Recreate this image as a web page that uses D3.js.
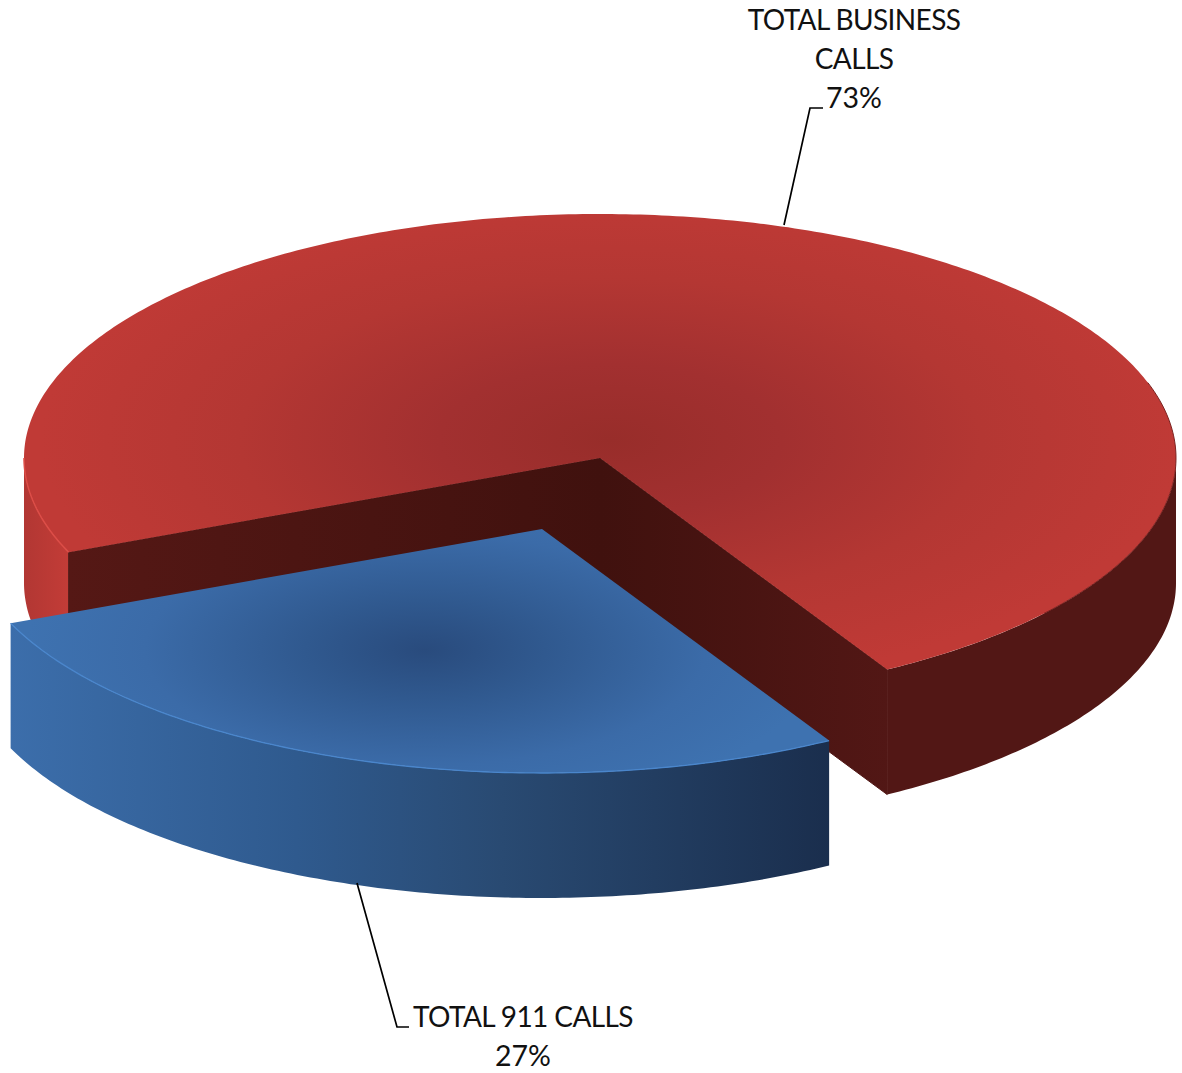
<!DOCTYPE html>
<html>
<head>
<meta charset="utf-8">
<script src="https://d3js.org/d3.v7.min.js" type="text/javascript"></script>
<style>
  html, body { margin: 0; padding: 0; background: #fff; }
  svg { display: block; }
  text { font-family: Lato, sans-serif; font-size: 28px; fill: #111; text-anchor: middle; }
  .name { letter-spacing: -0.6px; }
  .pct { font-size: 28.5px; }
</style>
</head>
<body>
<svg id="chart" width="1182" height="1073"></svg>
<script type="text/javascript">
const categories = ["TOTAL BUSINESS CALLS", "TOTAL 911 CALLS"];
const values = [73, 27];
const labelLines = [["TOTAL BUSINESS", "CALLS"], ["TOTAL 911 CALLS"]];

const width = 1182, height = 1073;
const cx = 600, cy = 458, rx = 576, ry = 244, depth = 125;
const explode = { x: -58, y: 71 }; // blue slice is pulled out
const firstAngle = 247.3 * Math.PI / 180;

const svg = d3.select("#chart");
const defs = svg.append("defs");

// unit circle -> squashed ellipse on the page
const xScale = d3.scaleLinear().domain([-1, 1]).range([cx - rx, cx + rx]);
const yScale = d3.scaleLinear().domain([-1, 1]).range([cy - ry, cy + ry]);

const pie = d3.pie().sort(null).startAngle(firstAngle).endAngle(firstAngle + 2 * Math.PI);
const slices = pie(values);
const red = slices[0], blue = slices[1];

const line = d3.line();

function rimPoint(a, dx, dy) {
  return [xScale(Math.sin(a)) + dx, yScale(-Math.cos(a)) + dy];
}
function rim(a0, a1, dx, dy) {
  const n = Math.ceil(Math.abs(a1 - a0) * 80);
  return d3.range(n + 1).map(i => rimPoint(a0 + (a1 - a0) * i / n, dx, dy));
}
function topPath(s, dx, dy) {
  return line([[cx + dx, cy + dy]].concat(rim(s.startAngle, s.endAngle, dx, dy))) + "Z";
}
function wallPath(a0, a1, dx, dy) {
  return line(rim(a0, a1, dx, dy).concat(rim(a1, a0, dx, dy + depth))) + "Z";
}
function cutPath(a, dx, dy) {
  const p = rimPoint(a, dx, dy);
  return line([[cx + dx, cy + dy], p, [p[0], p[1] + depth], [cx + dx, cy + dy + depth]]) + "Z";
}

function linearGradient(id, x1, x2, stops) {
  const g = defs.append("linearGradient").attr("id", id)
    .attr("gradientUnits", "userSpaceOnUse")
    .attr("x1", x1).attr("x2", x2).attr("y1", 0).attr("y2", 0);
  stops.forEach(s => g.append("stop").attr("offset", s[0]).attr("stop-color", s[1]));
}
function radialGradient(id, x, y, gx, gy, stops) {
  const g = defs.append("radialGradient").attr("id", id)
    .attr("gradientUnits", "userSpaceOnUse")
    .attr("cx", 0).attr("cy", 0).attr("r", 1)
    .attr("gradientTransform", `translate(${x},${y}) scale(${gx},${gy})`);
  stops.forEach(s => g.append("stop").attr("offset", s[0]).attr("stop-color", s[1]));
}

radialGradient("redTop", 610, 440, 570, 250, [[0, "#982d2a"], [0.3, "#a23030"], [0.65, "#b43733"], [1, "#c03a36"]]);
radialGradient("blueTop", 425, 650, 400, 165, [[0, "#294b7d"], [0.3, "#30598f"], [0.7, "#3b6ba8"], [1, "#3e72b0"]]);
linearGradient("redLeft", 24, 67, [[0, "#b23733"], [1, "#c23c37"]]);
linearGradient("redCut", 67, 889, [[0, "#551815"], [0.65, "#40110e"], [1, "#521715"]]);
linearGradient("blueWall", 9, 831, [[0, "#3c6eab"], [0.35, "#2f5a8e"], [0.6, "#294a72"], [1, "#1a2e4d"]]);

// red slice: outer wall, the two cut faces, then the top
svg.append("path").attr("d", wallPath(red.startAngle, 1.5 * Math.PI, 0, 0)).attr("fill", "url(#redLeft)");
svg.append("path").attr("d", wallPath(2.5 * Math.PI, red.endAngle, 0, 0)).attr("fill", "#521715");
svg.append("path").attr("d", cutPath(red.startAngle, 0, 0)).attr("fill", "url(#redCut)")
  .attr("stroke", "url(#redCut)").attr("stroke-width", 1);
svg.append("path").attr("d", cutPath(red.endAngle, 0, 0)).attr("fill", "url(#redCut)")
  .attr("stroke", "url(#redCut)").attr("stroke-width", 1);
svg.append("path").attr("d", topPath(red, 0, 0)).attr("fill", "url(#redTop)");
svg.append("path").attr("d", line(rim(red.startAngle, 1.5 * Math.PI, 0, 0)))
  .attr("fill", "none").attr("stroke", "#dc4d47").attr("stroke-width", 1.5);
svg.append("path").attr("d", line(rim(2.4 * Math.PI, 2.72 * Math.PI, 0, 0)))
  .attr("fill", "none").attr("stroke", "#7c2321").attr("stroke-width", 1);

// blue slice
svg.append("path").attr("d", wallPath(blue.startAngle, blue.endAngle, explode.x, explode.y)).attr("fill", "url(#blueWall)");
svg.append("path").attr("d", topPath(blue, explode.x, explode.y)).attr("fill", "url(#blueTop)");
svg.append("path").attr("d", line(rim(blue.startAngle, blue.endAngle, explode.x, explode.y)))
  .attr("fill", "none").attr("stroke", "#4a86cc").attr("stroke-width", 1.3);

// leader lines
const leaderTop = [[784, 225], [810, 108], [823, 108]];
const leaderBottom = [[357, 883], [397, 1027], [409, 1027]];
[leaderTop, leaderBottom].forEach(p => {
  svg.append("path").attr("d", line(p))
    .attr("fill", "none").attr("stroke", "#000").attr("stroke-width", 1.7);
});

// labels
const labelPos = [{ x: 854, y: 30 }, { x: 523, y: 1027 }];
const lineStep = 39;
categories.forEach((c, i) => {
  const t = svg.append("text").attr("aria-label", c);
  labelLines[i].forEach((s, j) => {
    t.append("tspan").attr("class", "name").attr("x", labelPos[i].x).attr("y", labelPos[i].y + j * lineStep).text(s);
  });
  t.append("tspan").attr("class", "pct").attr("x", labelPos[i].x)
    .attr("y", labelPos[i].y + labelLines[i].length * lineStep).text(values[i] + "%");
});
</script>
</body>
</html>
